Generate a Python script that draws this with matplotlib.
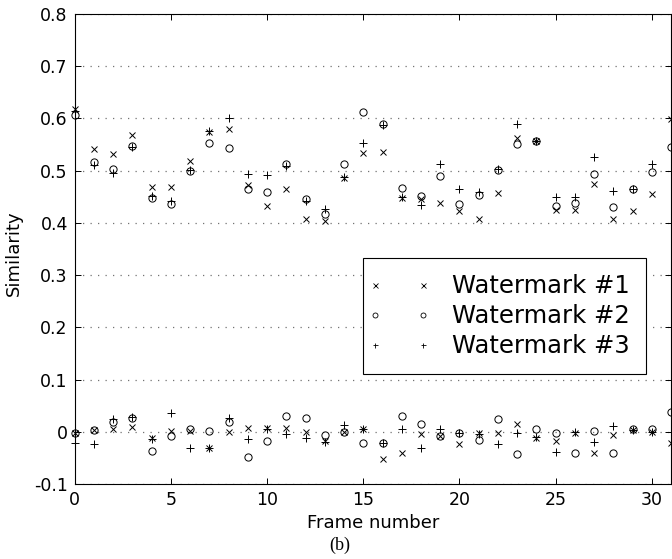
import numpy as np
import matplotlib.pyplot as plt
from matplotlib.lines import Line2D
from matplotlib.legend_handler import HandlerLine2D

frames = list(range(32))

# similarity with the embedded watermark (upper group)
wm1_hi = [0.618, 0.541, 0.532, 0.569, 0.468, 0.468, 0.519, 0.574, 0.579, 0.472, 0.432,
          0.464, 0.408, 0.404, 0.485, 0.533, 0.536, 0.447, 0.445, 0.439, 0.422, 0.408,
          0.457, 0.562, 0.556, 0.424, 0.424, 0.475, 0.408, 0.422, 0.455, 0.598]
wm2_hi = [0.607, 0.517, 0.503, 0.548, 0.448, 0.437, 0.499, 0.552, 0.543, 0.465, 0.459,
          0.513, 0.446, 0.417, 0.512, 0.613, 0.590, 0.466, 0.452, 0.489, 0.437, 0.454,
          0.502, 0.551, 0.556, 0.433, 0.438, 0.493, 0.431, 0.464, 0.498, 0.546]
wm3_hi = [0.614, 0.510, 0.496, 0.545, 0.451, 0.441, 0.501, 0.575, 0.601, 0.493, 0.491,
          0.508, 0.442, 0.427, 0.488, 0.553, 0.588, 0.450, 0.434, 0.512, 0.464, 0.460,
          0.503, 0.589, 0.556, 0.449, 0.450, 0.527, 0.461, 0.464, 0.513, 0.600]

# similarity with non-matching keys (lower group)
wm1_lo = [-0.002, 0.004, 0.006, 0.010, -0.011, 0.001, 0.001, -0.031, -0.001, 0.008, 0.008,
          0.008, 0.000, -0.018, 0.000, 0.005, -0.053, -0.040, -0.005, -0.008, -0.024, -0.002,
          -0.002, 0.014, -0.011, -0.018, -0.002, -0.040, -0.006, 0.003, 0.000, -0.021]
wm2_lo = [-0.003, 0.004, 0.019, 0.027, -0.037, -0.008, 0.005, 0.001, 0.019, -0.048, -0.017,
          0.030, 0.027, -0.006, 0.000, -0.021, -0.021, 0.030, 0.014, -0.008, -0.002, -0.015,
          0.025, -0.042, 0.006, -0.002, -0.040, 0.001, -0.040, 0.006, 0.006, 0.038]
wm3_lo = [-0.021, -0.024, 0.025, 0.029, -0.013, 0.035, -0.031, -0.031, 0.027, -0.013, 0.006,
          -0.005, -0.011, -0.019, 0.012, 0.005, -0.021, 0.005, -0.031, 0.006, -0.002, -0.005,
          -0.023, -0.002, -0.010, -0.038, 0.000, -0.020, 0.011, 0.003, 0.000, 0.000]

names = ['Watermark #1', 'Watermark #2', 'Watermark #3']
yticks = [-0.1, 0, 0.1, 0.2, 0.3, 0.4, 0.5, 0.6, 0.7, 0.8]
ytick_labels = ['-0.1', '0', '0.1', '0.2', '0.3', '0.4', '0.5', '0.6', '0.7', '0.8']
xticks = [0, 5, 10, 15, 20, 25, 30]

fig = plt.figure(figsize=(6.72, 5.59), dpi=100)
ax = fig.add_axes([0.1112, 0.1342, 0.8874, 0.8408])

styles = [dict(marker='x', ms=4.0), dict(marker='o', ms=5.2, mfc='none'), dict(marker='+', ms=5.2)]
series = [(wm1_hi, wm1_lo), (wm2_hi, wm2_lo), (wm3_hi, wm3_lo)]

handles = []
for (hi, lo), st, nm in zip(series, styles, names):
    for vals in (hi, lo):
        ax.plot(frames, vals, linestyle='none', color='k', mew=0.7, clip_on=False, zorder=3, **st)
    handles.append(Line2D([], [], linestyle='none', color='k', marker=st['marker'],
                          ms=3.6, mew=0.6, mfc='none', label=nm))

ax.set_xlim(0, 31)
ax.set_ylim(-0.1, 0.8)
ax.set_xticks(xticks)
ax.set_xticklabels([str(t) for t in xticks])
ax.set_yticks(yticks)
ax.set_yticklabels(ytick_labels)
ax.tick_params(direction='in', top=True, right=True, length=4, width=0.7,
               labelsize=12.5, pad=5)
for sp in ax.spines.values():
    sp.set_linewidth(0.8)

ax.yaxis.grid(True, linestyle=(0, (1, 5)), color='0.45', linewidth=0.9)
ax.set_axisbelow(True)

ax.set_xlabel('Frame number', fontsize=13)
ax.xaxis.set_label_coords(0.5, -0.063)
ax.set_ylabel('Similarity', fontsize=13, va='center')
ax.yaxis.set_label_coords(-0.1026, 0.49)

leg = ax.legend(handles=handles, loc='upper left',
                bbox_to_anchor=(362.7 / 672, 1 - 258.3 / 559), bbox_transform=fig.transFigure,
                borderaxespad=0, numpoints=2, fontsize=17.5, handlelength=1.68,
                handletextpad=1.35, labelspacing=0.25, borderpad=0.65, fancybox=False,
                framealpha=1, edgecolor='k',
                handler_map={Line2D: HandlerLine2D(marker_pad=-0.15)})
leg.get_frame().set_linewidth(0.8)

fig.text(340 / 672, 1 - 545.7 / 559, '(b)', family='Liberation Serif', fontsize=13,
         ha='center', va='center')

plt.savefig('out.png', dpi=100)
